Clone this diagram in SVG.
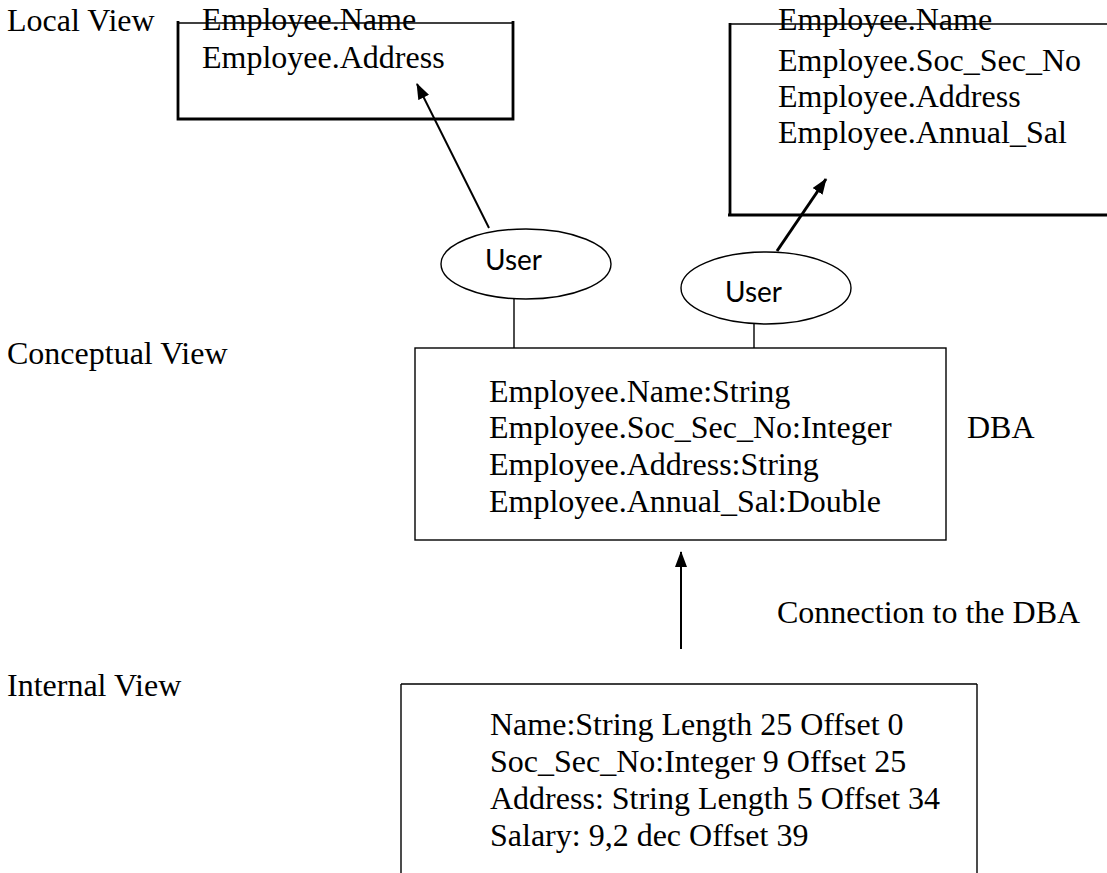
<svg xmlns="http://www.w3.org/2000/svg" width="1107" height="873" viewBox="0 0 1107 873">
<style>
.t{font-family:"Liberation Serif","Times New Roman",serif;font-size:32px;fill:#000}
.u{font-family:Lato,"Open Sans",sans-serif;font-size:28px;fill:#000}
.thick{fill:none;stroke:#000;stroke-width:2.8}
.thin{fill:none;stroke:#000;stroke-width:1.4}
.ell{fill:#fff;stroke:#000;stroke-width:1.4}
.arr{stroke:#000;fill:none}
</style>
<defs>
<marker id="ah" viewBox="0 0 16 12" refX="15" refY="6" markerWidth="16" markerHeight="12" orient="auto" markerUnits="userSpaceOnUse"><path d="M0,0 L16,6 L0,12 z" fill="#000"/></marker>
</defs>
<g id="labels">
<text class="t" x="7" y="31">Local View</text>
<text class="t" x="7" y="364">Conceptual View</text>
<text class="t" x="7" y="696">Internal View</text>
<text class="t" x="967" y="438">DBA</text>
<text class="t" x="777" y="623">Connection to the DBA</text>
</g>
<g id="local-view-1">
<path class="thin" d="M178,23 H513"/>
<path class="thick" d="M178,21 V119 H513 V21"/>
<text class="t" x="202" y="30">Employee.Name</text>
<text class="t" x="202" y="68">Employee.Address</text>
</g>
<g id="local-view-2">
<path class="thin" d="M730,24 H1107"/>
<path class="thick" d="M730,23 V215 M728,215 H1107"/>
<text class="t" x="778" y="30">Employee.Name</text>
<text class="t" x="778" y="71">Employee.Soc_Sec_No</text>
<text class="t" x="778" y="107">Employee.Address</text>
<text class="t" x="778" y="143">Employee.Annual_Sal</text>
</g>
<g id="user-1">
<ellipse class="ell" cx="526" cy="264" rx="85" ry="35"/>
<text class="u" x="485" y="270" textLength="57" lengthAdjust="spacingAndGlyphs">User</text>
</g>
<g id="user-2">
<ellipse class="ell" cx="766" cy="288" rx="85" ry="36"/>
<text class="u" x="725" y="302" textLength="57" lengthAdjust="spacingAndGlyphs">User</text>
</g>
<g id="conceptual-view">
<rect class="thin" x="415" y="348" width="531" height="192"/>
<text class="t" x="489" y="402">Employee.Name:String</text>
<text class="t" x="489" y="438">Employee.Soc_Sec_No:Integer</text>
<text class="t" x="489" y="475">Employee.Address:String</text>
<text class="t" x="489" y="512">Employee.Annual_Sal:Double</text>
</g>
<g id="internal-view">
<path class="thin" d="M401,684 H977 M401,684 V873 M977,684 V873"/>
<text class="t" x="490" y="735">Name:String Length 25 Offset 0</text>
<text class="t" x="490" y="772">Soc_Sec_No:Integer 9 Offset 25</text>
<text class="t" x="490" y="809">Address: String Length 5 Offset 34</text>
<text class="t" x="490" y="846">Salary: 9,2 dec Offset 39</text>
</g>
<g id="connectors">
<line class="arr" x1="489" y1="228" x2="417" y2="84" stroke-width="2" marker-end="url(#ah)"/>
<line class="arr" x1="777" y1="251" x2="826" y2="179" stroke-width="3" marker-end="url(#ah)"/>
<line class="thin" x1="514" y1="299" x2="514" y2="348"/>
<line class="thin" x1="754" y1="323" x2="754" y2="348"/>
<line class="arr" x1="681" y1="649" x2="681" y2="552" stroke-width="2" marker-end="url(#ah)"/>
</g>
</svg>
